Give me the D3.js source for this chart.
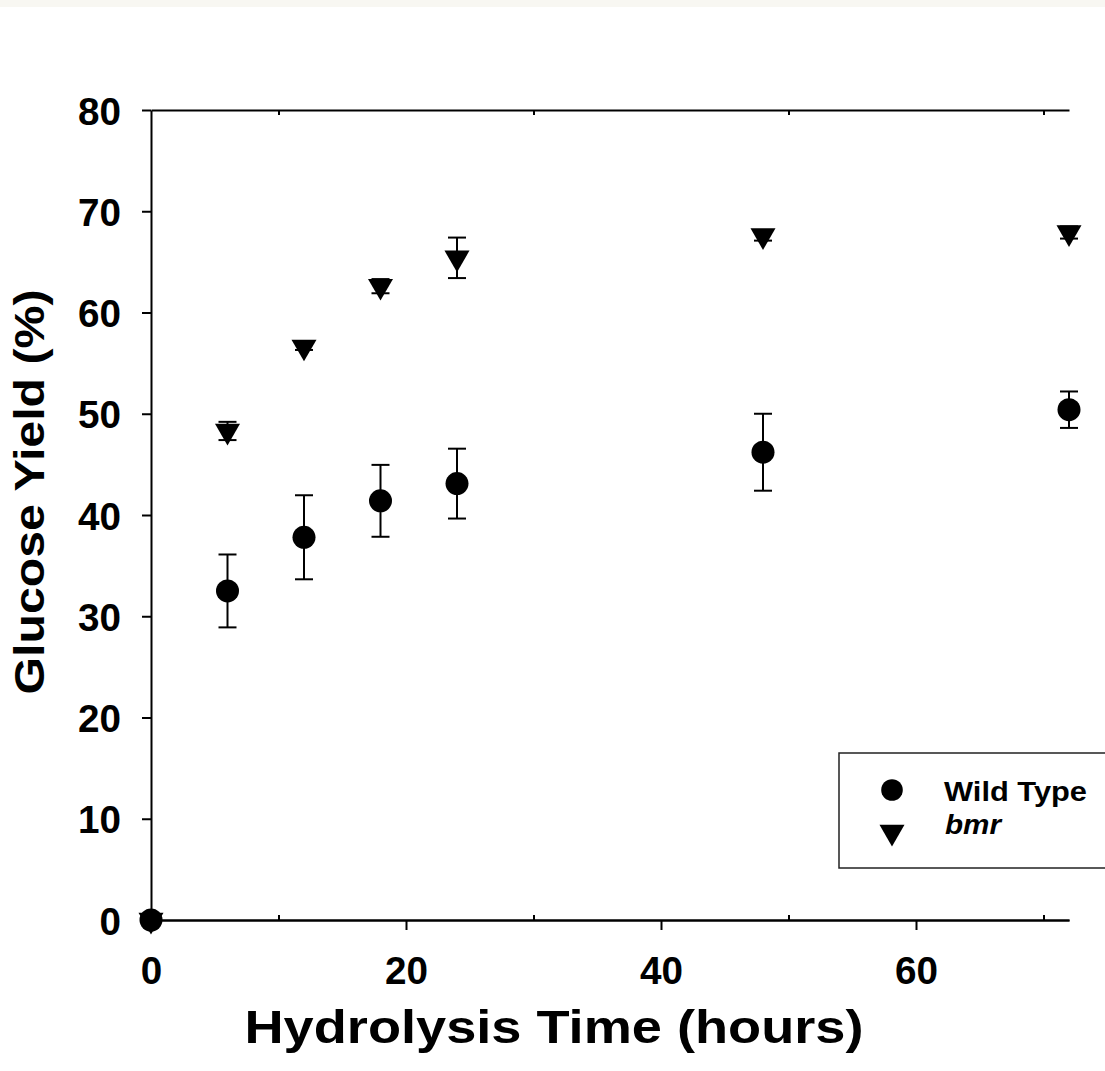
<!DOCTYPE html>
<html>
<head>
<meta charset="utf-8">
<script src="https://cdn.jsdelivr.net/npm/d3@7"></script>
<style>
  body { margin: 0; background: #ffffff; }
  svg text { font-family: "Liberation Sans", Arial, sans-serif; font-weight: bold; fill: #000; }
</style>
</head>
<body>
<div id="chart"></div>
<script>
// hydrolysis time (hours)
var hours = [0, 6, 12, 18, 24, 48, 72];
// glucose yield (%) and std errors
var wildType = [0, 32.5, 37.8, 41.4, 43.1, 46.2, 50.4];
var wildTypeErr = [0, 3.6, 4.15, 3.55, 3.45, 3.8, 1.8];
var bmr = [0, 48.3, 56.6, 62.6, 65.4, 67.6, 67.9];
var bmrErr = [0, 0.9, 0.3, 0.7, 2.0, 0.5, 0.6];

var xMajor = [0, 20, 40, 60];
var xMinor = [10, 30, 50, 70];
var yTicks = [0, 10, 20, 30, 40, 50, 60, 70, 80];

var W = 1105, H = 1071;

var svg = d3.select("#chart")
  .append("svg")
    .attr("width", W)
    .attr("height", H);

// light band at the very top of the picture
svg.append("rect")
  .attr("x", 0).attr("y", 0)
  .attr("width", W).attr("height", 7)
  .style("fill", "#f8f7f2");

var x = d3.scaleLinear().domain([0, 72]).range([151, 1069]);
var y = d3.scaleLinear().domain([0, 80]).range([920, 110]);

// bottom axis, labelled ticks point outward
var bottom = svg.append("g")
  .attr("transform", "translate(0,920)")
  .call(d3.axisBottom(x).tickValues(xMajor).tickSizeInner(10).tickSizeOuter(0));
bottom.selectAll("text")
  .attr("y", 64).attr("dy", null)
  .style("font-size", "39px")
  .attr("textLength", d => String(d).length * 21.5)
  .attr("lengthAdjust", "spacingAndGlyphs");

// minor ticks point inward
svg.append("g")
  .attr("transform", "translate(0,920)")
  .call(d3.axisBottom(x).tickValues(xMinor).tickSizeInner(-5).tickSizeOuter(0).tickFormat(""));

// top line with small inward ticks
svg.append("g")
  .attr("transform", "translate(0,110)")
  .call(d3.axisTop(x).tickValues(xMinor).tickSizeInner(-5).tickSizeOuter(0).tickFormat(""));

// left axis
var left = svg.append("g")
  .attr("transform", "translate(151,0)")
  .call(d3.axisLeft(y).tickValues(yTicks).tickSizeInner(9).tickSizeOuter(0));
left.selectAll("text")
  .attr("x", -30).attr("dy", "14")
  .style("font-size", "39px")
  .attr("textLength", d => String(d).length * 21.5)
  .attr("lengthAdjust", "spacingAndGlyphs");

svg.selectAll(".domain, .tick line")
  .style("stroke", "#000")
  .style("stroke-width", 2);

// axis titles
svg.append("text")
  .attr("x", 554)
  .attr("y", 1043)
  .attr("text-anchor", "middle")
  .style("font-size", "47px")
  .attr("textLength", 619)
  .attr("lengthAdjust", "spacingAndGlyphs")
  .text("Hydrolysis Time (hours)");

svg.append("text")
  .attr("transform", "translate(44,492) rotate(-90)")
  .attr("text-anchor", "middle")
  .style("font-size", "42px")
  .attr("textLength", 405)
  .attr("lengthAdjust", "spacingAndGlyphs")
  .text("Glucose Yield (%)");

var tri = d3.symbol().type(d3.symbolTriangle).size(271);

function errorBars(vals, errs) {
  var g = svg.append("g")
    .style("stroke", "#000")
    .style("stroke-width", 2);
  hours.forEach(function(h, i) {
    if (!errs[i]) return;
    var cx = x(h), top = y(vals[i] + errs[i]), bot = y(vals[i] - errs[i]);
    g.append("line").attr("x1", cx).attr("x2", cx).attr("y1", top).attr("y2", bot);
    g.append("line").attr("x1", cx - 9).attr("x2", cx + 9).attr("y1", top).attr("y2", top);
    g.append("line").attr("x1", cx - 9).attr("x2", cx + 9).attr("y1", bot).attr("y2", bot);
  });
}

errorBars(bmr, bmrErr);
errorBars(wildType, wildTypeErr);

// bmr triangles
svg.append("g")
  .selectAll("path")
  .data(hours)
  .enter()
  .append("path")
    .attr("d", tri)
    .attr("transform", (d, i) => "translate(" + x(d) + "," + y(bmr[i]) + ") rotate(180)")
    .style("fill", "#000");

// wild type circles
svg.append("g")
  .selectAll("circle")
  .data(hours)
  .enter()
  .append("circle")
    .attr("cx", d => x(d))
    .attr("cy", (d, i) => y(wildType[i]))
    .attr("r", 11.5)
    .style("fill", "#000");

// legend
var legend = svg.append("g");
legend.append("rect")
  .attr("x", 839).attr("y", 753)
  .attr("width", 272).attr("height", 115)
  .style("fill", "#fff")
  .style("stroke", "#222")
  .style("stroke-width", 1.5);
legend.append("circle")
  .attr("cx", 892).attr("cy", 790).attr("r", 10.8)
  .style("fill", "#000");
legend.append("path")
  .attr("d", tri)
  .attr("transform", "translate(892,832) rotate(180)")
  .style("fill", "#000");
legend.append("text")
  .attr("x", 944).attr("y", 801)
  .style("font-size", "28px")
  .attr("textLength", 143)
  .attr("lengthAdjust", "spacingAndGlyphs")
  .text("Wild Type");
legend.append("text")
  .attr("x", 945).attr("y", 834)
  .style("font-size", "28px")
  .style("font-style", "italic")
  .attr("textLength", 56)
  .attr("lengthAdjust", "spacingAndGlyphs")
  .text("bmr");
</script>
</body>
</html>
